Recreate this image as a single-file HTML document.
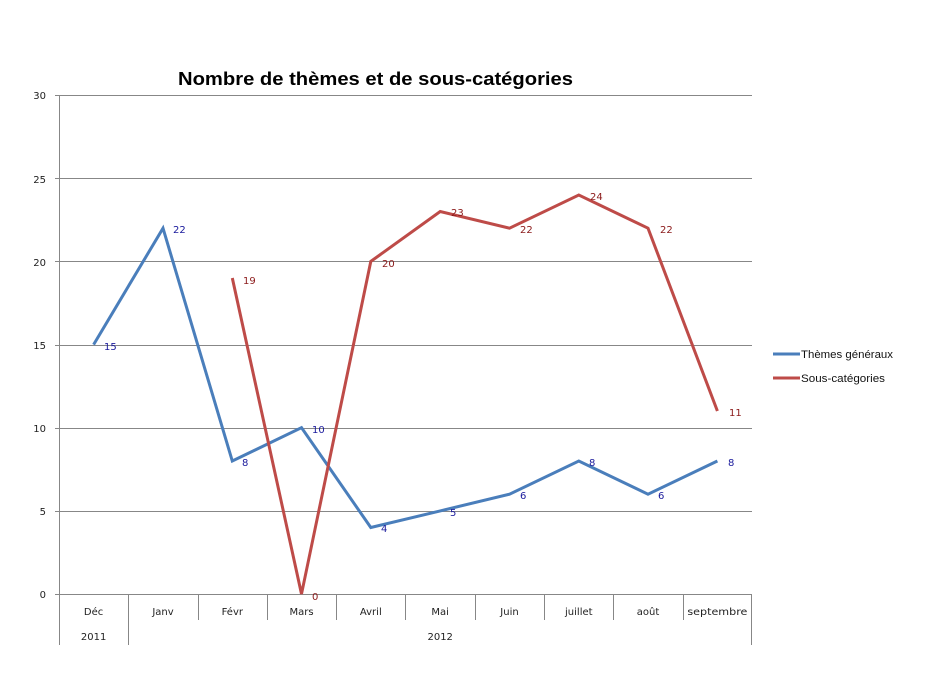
<!DOCTYPE html>
<html><head><meta charset="utf-8"><style>
html,body{margin:0;padding:0;background:#fff;}
svg{display:block;}
</style></head><body>
<svg width="933" height="700" viewBox="0 0 933 700" xmlns="http://www.w3.org/2000/svg">
<rect width="933" height="700" fill="#fff"/>
<text x="375.5" y="85" text-anchor="middle" font-family="'Liberation Sans',sans-serif" font-size="18" font-weight="bold" fill="#000" textLength="395" lengthAdjust="spacingAndGlyphs">Nombre de thèmes et de sous-catégories</text>
<g stroke="#878787" stroke-width="1" shape-rendering="crispEdges">
<line x1="55" y1="95.5" x2="752" y2="95.5"/>
<line x1="55" y1="178.5" x2="752" y2="178.5"/>
<line x1="55" y1="261.5" x2="752" y2="261.5"/>
<line x1="55" y1="345.5" x2="752" y2="345.5"/>
<line x1="55" y1="428.5" x2="752" y2="428.5"/>
<line x1="55" y1="511.5" x2="752" y2="511.5"/>
<line x1="55" y1="594.5" x2="752" y2="594.5"/>
<line x1="59.5" y1="95" x2="59.5" y2="645"/>
<line x1="128.5" y1="594" x2="128.5" y2="645"/>
<line x1="198.5" y1="594" x2="198.5" y2="620"/>
<line x1="267.5" y1="594" x2="267.5" y2="620"/>
<line x1="336.5" y1="594" x2="336.5" y2="620"/>
<line x1="405.5" y1="594" x2="405.5" y2="620"/>
<line x1="475.5" y1="594" x2="475.5" y2="620"/>
<line x1="544.5" y1="594" x2="544.5" y2="620"/>
<line x1="613.5" y1="594" x2="613.5" y2="620"/>
<line x1="683.5" y1="594" x2="683.5" y2="620"/>
<line x1="751.5" y1="594" x2="751.5" y2="645"/>
</g>
<g font-family="'DejaVu Sans',sans-serif" font-size="10" fill="#222" text-anchor="end">
<text x="46" y="99">30</text>
<text x="46" y="183">25</text>
<text x="46" y="266">20</text>
<text x="46" y="349">15</text>
<text x="46" y="432">10</text>
<text x="46" y="515">5</text>
<text x="46" y="598">0</text>
</g>
<g font-family="'DejaVu Sans',sans-serif" font-size="10" fill="#222" text-anchor="middle">
<text x="93.6" y="615">Déc</text>
<text x="163" y="615">Janv</text>
<text x="232.3" y="615">Févr</text>
<text x="301.5" y="615">Mars</text>
<text x="370.8" y="615">Avril</text>
<text x="440.2" y="615">Mai</text>
<text x="509.5" y="615">Juin</text>
<text x="578.8" y="615">juillet</text>
<text x="648" y="615">août</text>
<text x="717.4" y="615" textLength="60" lengthAdjust="spacingAndGlyphs">septembre</text>
<text x="93.6" y="640">2011</text>
<text x="440.2" y="640">2012</text>
</g>
<polyline fill="none" stroke="#4a7ebb" stroke-width="3" stroke-linejoin="miter" points="93.6,344.6 163,228.2 232.3,461 301.5,427.7 370.8,527.5 440.2,510.9 509.5,494.2 578.8,461 648,494.2 717.4,461"/>
<polyline fill="none" stroke="#be4b48" stroke-width="3" stroke-linejoin="miter" points="232.3,278 301.5,594 370.8,261.4 440.2,211.5 509.5,228.2 578.8,195 648,228.2 717.4,411"/>
<g font-family="'DejaVu Sans',sans-serif" font-size="10" fill="#1a1a9c">
<text x="104" y="350">15</text>
<text x="173" y="233">22</text>
<text x="242" y="466">8</text>
<text x="312" y="433">10</text>
<text x="381" y="532">4</text>
<text x="450" y="516">5</text>
<text x="520" y="499">6</text>
<text x="589" y="466">8</text>
<text x="658" y="499">6</text>
<text x="728" y="466">8</text>
</g>
<g font-family="'DejaVu Sans',sans-serif" font-size="10" fill="#8b1a1a">
<text x="243" y="284">19</text>
<text x="312" y="600">0</text>
<text x="382" y="267">20</text>
<text x="451" y="216">23</text>
<text x="520" y="233">22</text>
<text x="590" y="200">24</text>
<text x="660" y="233">22</text>
<text x="729" y="416">11</text>
</g>
<line x1="773" y1="354" x2="800" y2="354" stroke="#4a7ebb" stroke-width="3"/>
<line x1="773" y1="378" x2="800" y2="378" stroke="#be4b48" stroke-width="3"/>
<g font-family="'Liberation Sans',sans-serif" font-size="11" fill="#111">
<text x="801" y="358" textLength="92" lengthAdjust="spacingAndGlyphs">Thèmes généraux</text>
<text x="801" y="382" textLength="84" lengthAdjust="spacingAndGlyphs">Sous-catégories</text>
</g>
</svg>
</body></html>
